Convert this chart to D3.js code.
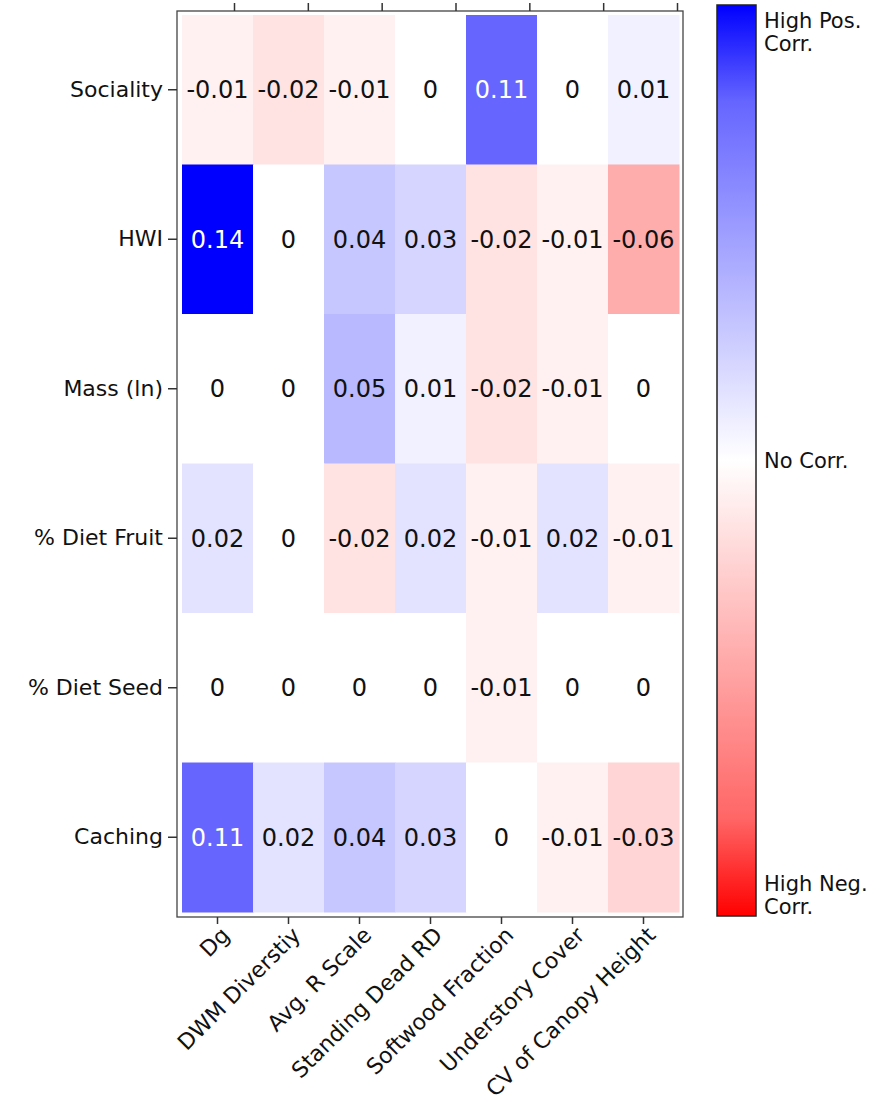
<!DOCTYPE html>
<html>
<head>
<meta charset="utf-8">
<script src="https://cdn.jsdelivr.net/npm/d3@7"></script>
<style>
  body { margin: 0; background: #fff; }
  text { font-family: "DejaVu Sans", Verdana, sans-serif; fill: #111; }
  .axis text { font-size: 22px; }
  .axis line { stroke: #333; stroke-width: 1.5; }
</style>
</head>
<body>
<div class="visualization"></div>
<script>
// traits (rows) and habitat variables (columns)
const traits = ["Sociality", "HWI", "Mass (ln)", "% Diet Fruit", "% Diet Seed", "Caching"];
const habitat = ["Dg", "DWM Diverstiy", "Avg. R Scale", "Standing Dead RD",
  "Softwood Fraction", "Understory Cover", "CV of Canopy Height"];

// correlation values, one array per trait row
const sociality = [-0.01, -0.02, -0.01, 0, 0.11, 0, 0.01];
const hwi = [0.14, 0, 0.04, 0.03, -0.02, -0.01, -0.06];
const massLn = [0, 0, 0.05, 0.01, -0.02, -0.01, 0];
const dietFruit = [0.02, 0, -0.02, 0.02, -0.01, 0.02, -0.01];
const dietSeed = [0, 0, 0, 0, -0.01, 0, 0];
const caching = [0.11, 0.02, 0.04, 0.03, 0, -0.01, -0.03];

const rows = [sociality, hwi, massLn, dietFruit, dietSeed, caching];

// colour scale stops (red = negative, blue = positive)
const colorDomain = [-0.14, -0.11, 0, 0.11, 0.14];
const colorRange = ["#ff0000", "#ff6666", "#ffffff", "#6666ff", "#0000ff"];

const colorbarLabels = [["High Pos.", "Corr."], ["No Corr."], ["High Neg.", "Corr."]];

const width = 874;
const height = 1108;
const frame = { left: 177, right: 683, top: 11, bottom: 917 };

const svg = d3.select(".visualization")
  .append("svg")
  .attr("width", width)
  .attr("height", height);

const color = d3.scaleLinear()
  .domain(colorDomain)
  .range(colorRange)
  .clamp(true);

const xScale = d3.scaleBand().domain(habitat).range([182, 679]);
const yScale = d3.scaleBand().domain(traits).range([15, 912]);

// flatten to cells
let cells = [];
rows.forEach((r, i) => {
  r.forEach((v, j) => {
    cells.push({ trait: traits[i], hab: habitat[j], value: v });
  });
});

svg.append("g")
  .selectAll("rect")
  .data(cells)
  .enter()
  .append("rect")
  .attr("x", d => xScale(d.hab))
  .attr("y", d => yScale(d.trait))
  .attr("width", xScale.bandwidth() + 0.5)
  .attr("height", yScale.bandwidth() + 0.5)
  .attr("fill", d => color(d.value));

svg.append("g")
  .selectAll("text")
  .data(cells)
  .enter()
  .append("text")
  .attr("x", d => xScale(d.hab) + xScale.bandwidth() / 2)
  .attr("y", d => yScale(d.trait) + yScale.bandwidth() / 2)
  .attr("text-anchor", "middle")
  .attr("dy", "0.36em")
  .style("font-size", "24px")
  .style("fill", d => Math.abs(d.value) >= 0.1 ? "#fff" : "#111")
  .text(d => +d.value.toFixed(2));

// frame
svg.append("rect")
  .attr("x", frame.left)
  .attr("y", frame.top)
  .attr("width", frame.right - frame.left)
  .attr("height", frame.bottom - frame.top)
  .attr("fill", "none")
  .attr("stroke", "#444")
  .attr("stroke-width", 1.3);

// left axis
const yAxis = svg.append("g")
  .attr("class", "axis")
  .attr("transform", `translate(${frame.left}, 0)`)
  .call(d3.axisLeft(yScale).tickSize(9).tickPadding(5));
yAxis.select(".domain").remove();

// bottom axis with rotated labels
const xAxis = svg.append("g")
  .attr("class", "axis")
  .attr("transform", `translate(0, ${frame.bottom})`)
  .call(d3.axisBottom(xScale).tickSize(7));
xAxis.select(".domain").remove();
xAxis.selectAll("text")
  .style("text-anchor", "end")
  .attr("dx", "-0.2em")
  .attr("dy", "0.6em")
  .attr("transform", "rotate(-45)");

// top mirror ticks (no labels)
const xTop = d3.scalePoint().domain(habitat).range([234, 677]);
const topAxis = svg.append("g")
  .attr("class", "axis")
  .attr("transform", `translate(0, ${frame.top})`)
  .call(d3.axisTop(xTop).tickSize(8).tickFormat(""));
topAxis.select(".domain").remove();

// colour bar
const cb = { x: 717, y: 5, w: 39, h: 911 };
const grad = svg.append("defs")
  .append("linearGradient")
  .attr("id", "cbGrad")
  .attr("x1", 0).attr("y1", 0)
  .attr("x2", 0).attr("y2", 1);

const cbScale = d3.scaleLinear()
  .domain([colorDomain[colorDomain.length - 1], colorDomain[0]])
  .range([0, 1]);

colorDomain.slice().reverse().forEach(v => {
  grad.append("stop")
    .attr("offset", cbScale(v))
    .attr("stop-color", color(v));
});

svg.append("rect")
  .attr("x", cb.x)
  .attr("y", cb.y)
  .attr("width", cb.w)
  .attr("height", cb.h)
  .attr("fill", "url(#cbGrad)")
  .attr("stroke", "#222")
  .attr("stroke-width", 1.5);

const cbY = d3.scaleLinear().domain([0, 1]).range([cb.y, cb.y + cb.h]);
const labelPos = [0.008, 0.5, 0.955];

colorbarLabels.forEach((lines, i) => {
  const t = svg.append("text")
    .attr("x", cb.x + cb.w + 8)
    .attr("y", cbY(labelPos[i]))
    .style("font-size", "21px");
  lines.forEach((l, k) => {
    t.append("tspan")
      .attr("x", cb.x + cb.w + 8)
      .attr("dy", k === 0 ? (lines.length > 1 ? "0.75em" : "0.35em") : "1.1em")
      .text(l);
  });
});
</script>
</body>
</html>
